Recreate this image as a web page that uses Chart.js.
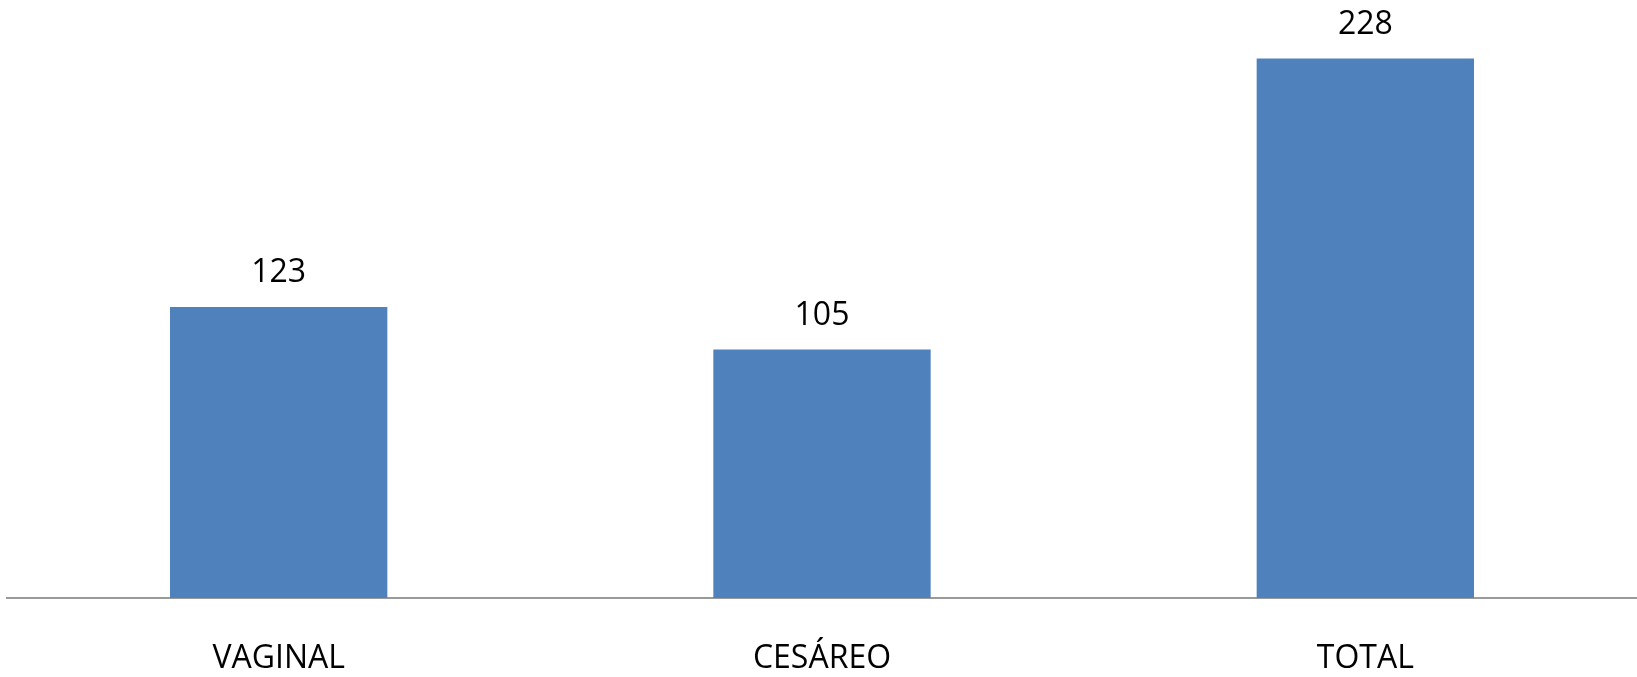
<!DOCTYPE html>
<html>
<head>
<meta charset="utf-8">
<title>Partos</title>
<script src="https://cdn.jsdelivr.net/npm/chart.js@4.4.1/dist/chart.umd.min.js"></script>
<style>
    html, body { margin: 0; padding: 0; background: #ffffff; }
    #wrap { width: 1637px; height: 677px; position: relative; }
</style>
</head>
<body>
<div id="wrap"><canvas id="partosChart"></canvas></div>
<script>
// Data
const categories = ['VAGINAL', 'CESÁREO', 'TOTAL'];
const partos = [123, 105, 228];

const barColor = '#4F81BD';

// Draw value labels above each bar
const valueLabels = {
    id: 'valueLabels',
    afterDatasetsDraw(chart) {
        const ctx = chart.ctx;
        const meta = chart.getDatasetMeta(0);
        ctx.save();
        ctx.font = '32px "Open Sans", sans-serif';
        ctx.fillStyle = '#000000';
        ctx.textAlign = 'center';
        ctx.textBaseline = 'middle';
        meta.data.forEach((bar, i) => {
            ctx.fillText(String(partos[i]), bar.x, bar.y - 34);
        });
        ctx.restore();
    }
};

function createChart() {
    const ctx = document.getElementById('partosChart').getContext('2d');
    Chart.defaults.font.family = '"Open Sans", sans-serif';
    Chart.defaults.color = '#000000';

    new Chart(ctx, {
        type: 'bar',
        data: {
            labels: categories,
            datasets: [{
                data: partos,
                backgroundColor: barColor,
                borderWidth: 0,
                categoryPercentage: 1.0,
                barPercentage: 0.4
            }]
        },
        options: {
            responsive: true,
            maintainAspectRatio: false,
            animation: false,
            layout: { padding: { top: 30, left: 7, right: 0, bottom: 0 } },
            plugins: {
                legend: { display: false },
                tooltip: { enabled: false }
            },
            scales: {
                x: {
                    grid: { display: false, drawTicks: false },
                    border: { display: true, color: '#9a9a9a', width: 2 },
                    ticks: { font: { size: 32 }, padding: 42, color: '#000000' },
                    afterFit: function(scale) { scale.height = 79; }
                },
                y: {
                    display: false,
                    min: 0,
                    max: 240
                }
            }
        },
        plugins: [valueLabels]
    });
}

document.addEventListener('DOMContentLoaded', createChart);
</script>
</body>
</html>
